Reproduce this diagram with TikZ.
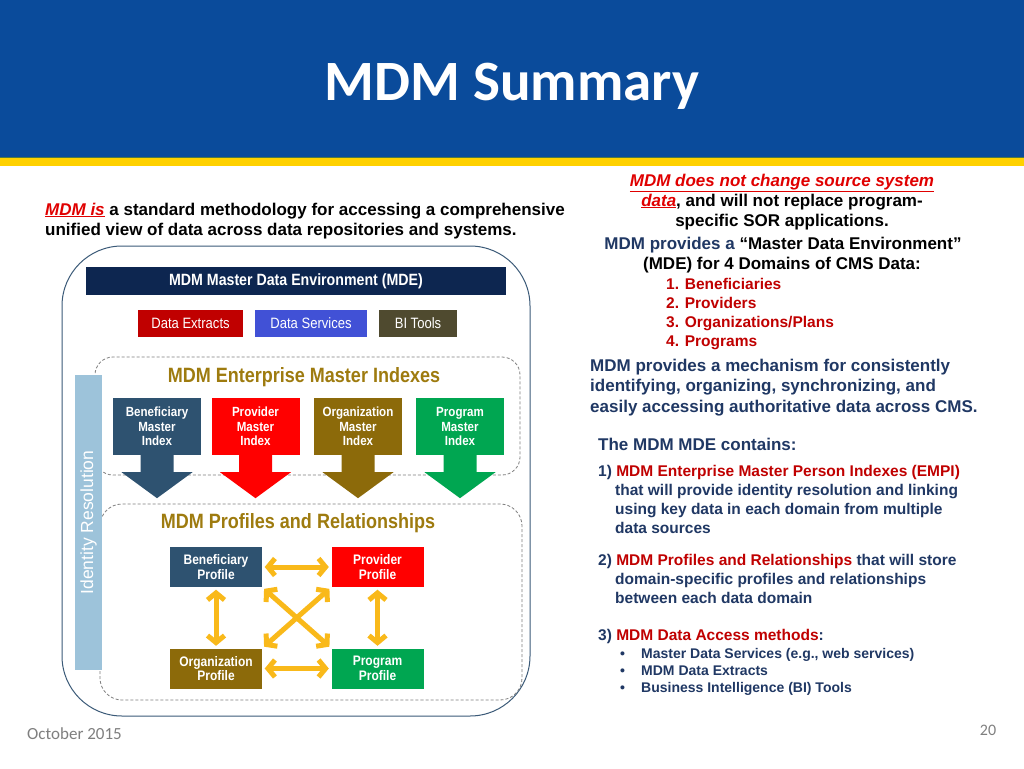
\documentclass[tikz,border=0pt]{standalone}
\usepackage{fontspec}
\setmainfont{Liberation Sans}
\newfontfamily\titlefont{Carlito}
\newfontfamily\narrowfont[FakeStretch=0.87]{Liberation Sans}
\usetikzlibrary{arrows.meta,calc}
\definecolor{hdrblue}{HTML}{0A4B9B}
\definecolor{bandyellow}{HTML}{FFD100}
\definecolor{bandline}{HTML}{4E7A46}
\definecolor{txtblue}{HTML}{203864}
\definecolor{brightred}{HTML}{E00000}
\definecolor{darkred}{HTML}{C00000}
\definecolor{navy}{HTML}{0D2650}
\definecolor{dsblue}{HTML}{4151D6}
\definecolor{biolive}{HTML}{4F4A2F}
\definecolor{gold}{HTML}{9E7B0F}
\definecolor{benblue}{HTML}{2E5270}
\definecolor{provred}{HTML}{FF0000}
\definecolor{orgbrown}{HTML}{8C6A0A}
\definecolor{proggreen}{HTML}{00A651}
\definecolor{idblue}{HTML}{9DC3DA}
\definecolor{outline}{HTML}{3B5A78}
\definecolor{arryellow}{HTML}{F9B91A}
\definecolor{footgray}{HTML}{7F7F7F}
\newcommand\mdmidx[4]{%
  \node[idxbox, fill=#3] (#1) at (#2,426.5) {#4};
  \fill[#3] ($(#1.south)+(-16.5,-0.5)$) -- ($(#1.south)+(-16.5,17)$) -- ($(#1.south)+(-35.5,17)$) -- ($(#1.south)+(0,43)$) -- ($(#1.south)+(35.5,17)$) -- ($(#1.south)+(16.5,17)$) -- ($(#1.south)+(16.5,-0.5)$) -- cycle;}
\begin{document}
\begin{tikzpicture}[x=1pt,y=-1pt,
  line/.style={inner sep=0pt, anchor=base west},
  cline/.style={inner sep=0pt, anchor=base},
  f17/.style={font=\bfseries\fontsize{17}{20}\selectfont},
  f15/.style={font=\bfseries\fontsize{15.5}{18}\selectfont},
  f14/.style={font=\bfseries\fontsize{14}{17}\selectfont},
  idxbox/.style={minimum width=88pt, minimum height=57pt, inner sep=0pt, align=center, text=white,
    font=\narrowfont\bfseries\fontsize{13.3}{14.5}\selectfont},
  profbox/.style={minimum width=92pt, minimum height=40pt, inner sep=0pt, align=center, text=white,
    font=\narrowfont\bfseries\fontsize{13.8}{14.5}\selectfont},
  btn/.style={minimum height=27pt, inner sep=0pt, text=white, font=\narrowfont\fontsize{15}{16}\selectfont},
  dashbox/.style={draw=footgray, line width=0.8pt, dash pattern=on 3pt off 2pt},
  yarr/.style={draw=arryellow, line width=5pt,
    {Straight Barb[length=7pt,width=17pt]}-{Straight Barb[length=7pt,width=17pt]},
    shorten >=2.5pt, shorten <=2.5pt},
  secttitle/.style={cline, text=gold, font=\narrowfont\bfseries\fontsize{20.7}{22}\selectfont}
]
\useasboundingbox (0,0) rectangle (1024,768);
\fill[white] (0,0) rectangle (1024,768);
% header
\fill[hdrblue] (0,0) rectangle (1024,157);
\fill[bandyellow] (0,157) rectangle (1024,166);
\draw[bandline, line width=1.2pt] (0,157.3) -- (1024,157.3);
\node[cline, text=white, font=\titlefont\bfseries\fontsize{57}{60}\selectfont] (title) at (512,100) {MDM Summary};

% left intro text
\node[line, f17] (l1) at (45,215) {{\color{brightred}\underline{\textit{MDM is}}} a standard methodology for accessing a comprehensive};
\node[line, f17] (l2) at (45,235) {unified view of data across data repositories and systems.};

% right block
\node[cline, f17] (r1) at (782,186) {\color{brightred}\underline{\textit{MDM does not change source system}}};
\node[cline, f17] (r2) at (782,206) {{\color{brightred}\underline{\textit{data}}}, and will not replace program-};
\node[cline, f17] (r3) at (782,226) {specific SOR applications.};
\node[cline, f17] (r4) at (783,249) {{\color{txtblue}MDM provides a} “Master Data Environment”};
\node[cline, f17] (r5) at (782,269) {(MDE) for 4 Domains of CMS Data:};
\node[line, f15, text=darkred] (d1) at (666,289.5) {1. Beneficiaries};
\node[line, f15, text=darkred] (d2) at (666,308.5) {2. Providers};
\node[line, f15, text=darkred] (d3) at (666,327.5) {3. Organizations/Plans};
\node[line, f15, text=darkred] (d4) at (666,346.5) {4. Programs};
\node[line, f17, text=txtblue] (m1) at (590,371) {MDM provides a mechanism for consistently};
\node[line, f17, text=txtblue] (m2) at (590,391) {identifying, organizing, synchronizing, and};
\node[line, f17, text=txtblue] (m3) at (590,412) {easily accessing authoritative data across CMS.};

\node[line, f17, text=txtblue] (c0) at (598,450) {The MDM MDE contains:};
\node[line, f15, text=txtblue] (c1) at (598,476.5) {1) {\color{darkred}MDM Enterprise Master Person Indexes (EMPI)}};
\node[line, f15, text=txtblue] (c1b) at (615,495.5) {that will provide identity resolution and linking};
\node[line, f15, text=txtblue] (c1c) at (615,514.5) {using key data in each domain from multiple};
\node[line, f15, text=txtblue] (c1d) at (615,533.5) {data sources};
\node[line, f15, text=txtblue] (c2) at (598,565.5) {2) {\color{darkred}MDM Profiles and Relationships} that will store};
\node[line, f15, text=txtblue] (c2b) at (615,584.5) {domain-specific profiles and relationships};
\node[line, f15, text=txtblue] (c2c) at (615,603.5) {between each data domain};
\node[line, f15, text=txtblue] (c3) at (598,640.5) {3) {\color{darkred}MDM Data Access methods}:};
\node[line, f14, text=txtblue] (b1m) at (620,658) {•};
\node[line, f14, text=txtblue] (b1) at (641,658) {Master Data Services (e.g., web services)};
\node[line, f14, text=txtblue] (b2m) at (620,675) {•};
\node[line, f14, text=txtblue] (b2) at (641,675) {MDM Data Extracts};
\node[line, f14, text=txtblue] (b3m) at (620,692) {•};
\node[line, f14, text=txtblue] (b3) at (641,692) {Business Intelligence (BI) Tools};

% footer
\node[line, text=footgray, font=\titlefont\fontsize{17}{18}\selectfont] (date) at (27,739) {October 2015};
\node[cline, text=footgray, font=\titlefont\fontsize{16}{18}\selectfont] (pg) at (988,735.5) {20};

% diagram
\draw[outline, line width=1pt, rounded corners=60pt] (62,246) rectangle (530,716);
\node[fill=navy, minimum width=420pt, minimum height=28pt, inner sep=0pt, text=white,
  font=\narrowfont\bfseries\fontsize{16.3}{17}\selectfont] (mde) at (296,281) {MDM Master Data Environment (MDE)};
\node[btn, fill=darkred, minimum width=105pt] (dx) at (190.5,323.5) {Data Extracts};
\node[btn, fill=dsblue, minimum width=112pt] (ds) at (311,323.5) {Data Services};
\node[btn, fill=biolive, minimum width=78pt] (bi) at (418,323.5) {BI Tools};

\draw[dashbox, rounded corners=18pt] (95,357) rectangle (520,475);
\draw[dashbox, rounded corners=22pt] (100,504) rectangle (522,700);

\node[secttitle] (emi) at (304,382) {MDM Enterprise Master Indexes};
\mdmidx{bmi}{157}{benblue}{Beneficiary\\Master\\Index}
\mdmidx{pmi}{255.5}{provred}{Provider\\Master\\Index}
\mdmidx{omi}{358}{orgbrown}{Organization\\Master\\Index}
\mdmidx{gmi}{460}{proggreen}{Program\\Master\\Index}

\node[secttitle] (prt) at (298,528) {MDM Profiles and Relationships};
\node[profbox, fill=benblue] (bp) at (216,567) {Beneficiary\\Profile};
\node[profbox, fill=provred] (pp) at (377.5,567) {Provider\\Profile};
\node[profbox, fill=orgbrown] (op) at (216,668.5) {Organization\\Profile};
\node[profbox, fill=proggreen] (gp) at (377.5,668.5) {Program\\Profile};
\draw[yarr] (bp.east) -- (pp.west);
\draw[yarr] (op.east) -- (gp.west);
\draw[yarr] (bp.south) -- (op.north);
\draw[yarr] (pp.south) -- (gp.north);
\draw[yarr] (bp.south east) -- (gp.north west);
\draw[yarr] (pp.south west) -- (op.north east);

\node[rotate=90, fill=idblue, minimum width=295pt, minimum height=27pt, inner sep=0pt, text=white,
  font=\fontsize{17.5}{18}\selectfont] (idr) at (88.5,522.5) {Identity Resolution};
\end{tikzpicture}
\end{document}
